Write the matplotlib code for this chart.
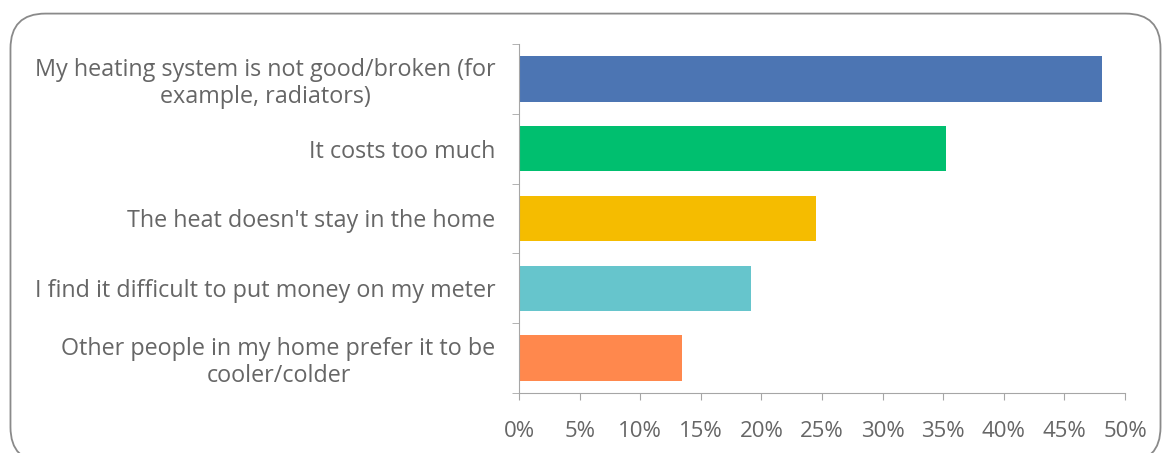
import matplotlib
matplotlib.use("Agg")
import matplotlib.pyplot as plt
from matplotlib.patches import FancyBboxPatch

categories = [
    "My heating system is not good/broken (for\nexample, radiators)",
    "It costs too much",
    "The heat doesn't stay in the home",
    "I find it difficult to put money on my meter",
    "Other people in my home prefer it to be\ncooler/colder",
]
values = [48.1, 35.2, 24.5, 19.1, 13.4]
colors = ["#4C75B3", "#00BF6F", "#F5BC00", "#66C5CC", "#FF884D"]
xticks = [0, 5, 10, 15, 20, 25, 30, 35, 40, 45, 50]

plt.rcParams['font.family'] = ['Open Sans', 'DejaVu Sans']
fig = plt.figure(figsize=(11.64, 4.53), dpi=100)
fig.patch.set_facecolor("white")

border = FancyBboxPatch((0.009, -0.02), 0.988, 0.99, transform=fig.transFigure,
                        boxstyle="round,pad=0,rounding_size=0.03",
                        fc="white", ec="#8a8a8a", lw=1.3, mutation_aspect=1164/453,
                        zorder=-5)
fig.patches.append(border)

ax = fig.add_axes([0.446, 0.1325, 0.5205, 0.7705])
ax.set_zorder(2)
y = list(range(len(categories)))
ax.barh(y, values, height=0.65, color=colors)
ax.set_ylim(len(categories) - 0.5, -0.5)
ax.set_xlim(0, 50)
ax.set_xticks(xticks)
ax.set_xticklabels([f"{t}%" for t in xticks])
ax.set_yticks(y)
ax.set_yticklabels(categories, linespacing=1.15)
for lbl in ax.get_yticklabels():
    lbl.set_multialignment("center")
ax.set_yticks([i + 0.5 for i in range(-1, len(categories))], minor=True)
ax.tick_params(axis="y", which="major", length=0, pad=17, labelsize=16.8, labelcolor="#666666")
ax.tick_params(axis="y", which="minor", length=5, color="#a6a6a6", direction="out")
ax.tick_params(axis="x", length=5, color="#a6a6a6", labelsize=16, labelcolor="#666666", pad=15)
for s in ["top", "right"]:
    ax.spines[s].set_visible(False)
for s in ["left", "bottom"]:
    ax.spines[s].set_color("#a6a6a6")
ax.set_facecolor("none")

fig.savefig("out.png", dpi=100, facecolor="white")
